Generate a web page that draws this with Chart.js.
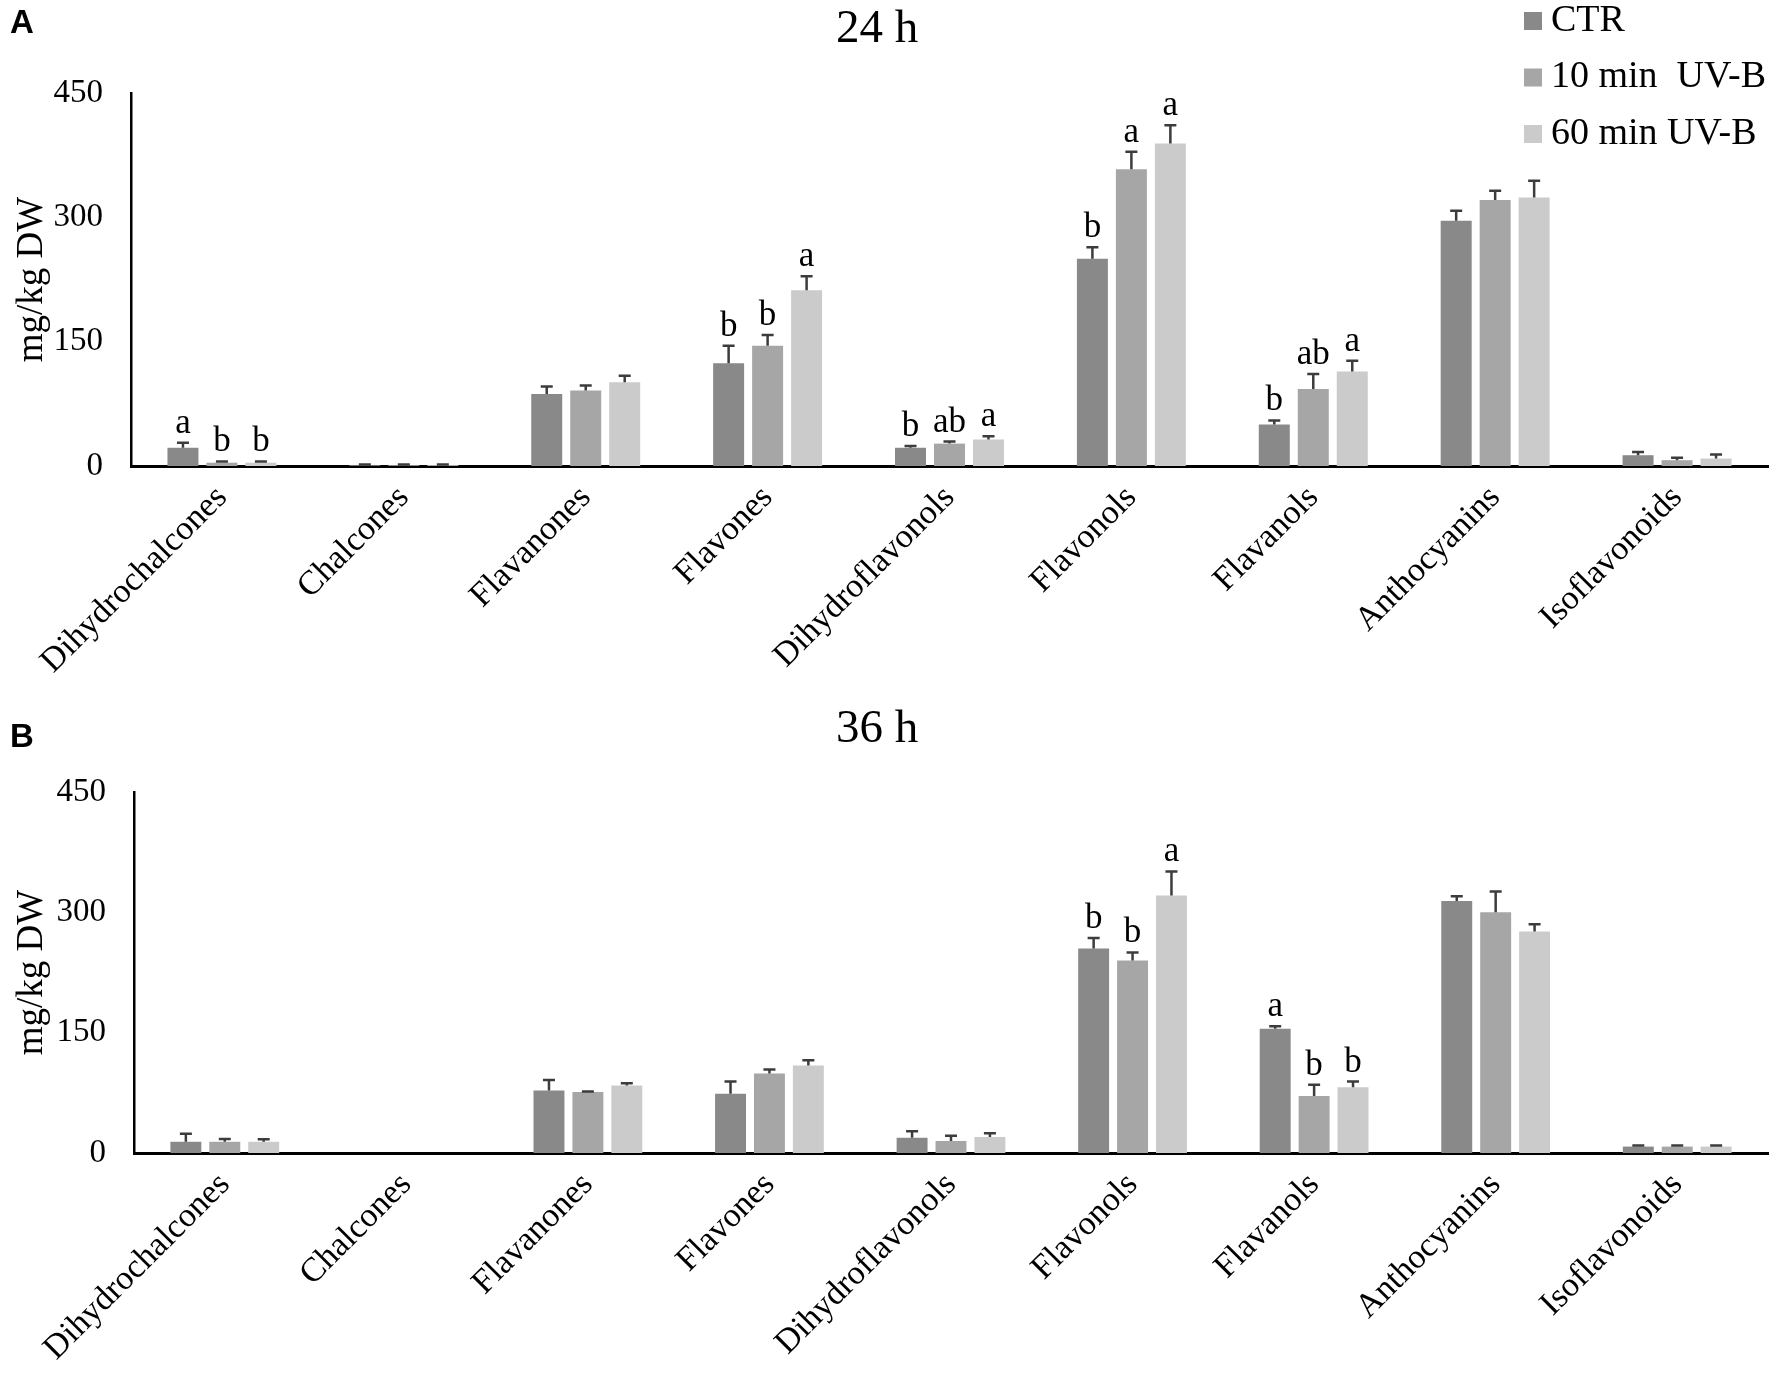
<!DOCTYPE html>
<html>
<head>
<meta charset="utf-8">
<script src="https://cdn.jsdelivr.net/npm/chart.js@4.4.1/dist/chart.umd.min.js"></script>
<style>
  html, body { margin: 0; padding: 0; background: #fff; }
  canvas { position: absolute; left: 0; }
  #panelA { top: 0; }
  #panelB { top: 700px; }
</style>
</head>
<body>
<canvas id="panelA" width="1788" height="700"></canvas>
<canvas id="panelB" width="1788" height="679"></canvas>
<script>
var categories = ['Dihydrochalcones', 'Chalcones', 'Flavanones', 'Flavones', 'Dihydroflavonols',
  'Flavonols', 'Flavanols', 'Anthocyanins', 'Isoflavonoids'];
var seriesNames = ['CTR', '10 min  UV-B', '60 min UV-B'];
var seriesColors = ['#898989', '#a6a6a6', '#cbcbcb'];
var yTicks = [0, 150, 300, 450];

// 24 h
var ctr24 = [22, 1, 87, 124, 22, 250, 50, 296, 13];
var ctr24Err = [6, 0.8, 9, 21, 2, 14, 5, 12, 4];
var uv10min24 = [4, 1, 91, 145, 27, 358, 93, 321, 7];
var uv10min24Err = [1.5, 0.8, 6, 13, 2.5, 21, 18, 11, 3];
var uv60min24 = [4, 1, 101, 212, 32, 389, 114, 324, 9];
var uv60min24Err = [1.5, 0.8, 8, 17, 4, 22, 13, 20, 5];
var ctr24Letters = ['a', '', '', 'b', 'b', 'b', 'b', '', ''];
var uv10min24Letters = ['b', '', '', 'b', 'ab', 'a', 'ab', '', ''];
var uv60min24Letters = ['b', '', '', 'a', 'a', 'a', 'a', '', ''];

// 36 h
var ctr36 = [14, 0, 78, 74, 19, 255, 155, 314, 8];
var ctr36Err = [10, 0, 13, 15, 8, 13, 3, 6, 1.5];
var uv10min36 = [14, 0, 76, 99, 15, 240, 71, 300, 8];
var uv10min36Err = [3.5, 0, 0.8, 5, 6.5, 10, 14, 26, 1.5];
var uv60min36 = [14, 0, 84, 109, 20, 321, 82, 276, 8];
var uv60min36Err = [3, 0, 3, 6.5, 4.5, 30, 7, 9, 1.5];
var ctr36Letters = ['', '', '', '', '', 'b', 'a', '', ''];
var uv10min36Letters = ['', '', '', '', '', 'b', 'b', '', ''];
var uv60min36Letters = ['', '', '', '', '', 'a', 'b', '', ''];

var serif = '"Liberation Serif", "Times New Roman", serif';

// error bars, letters, panel title, panel letter, legend
var extrasPlugin = {
  id: 'extras',
  afterDatasetsDraw: function(chart) {
    var ctx = chart.ctx;
    var y = chart.scales.y;
    ctx.save();
    chart.data.datasets.forEach(function(ds, di) {
      var meta = chart.getDatasetMeta(di);
      meta.data.forEach(function(bar, i) {
        var v = ds.data[i];
        var err = ds.errors[i];
        if (!v && !err) return;
        var base = y.getPixelForValue(v);
        var top = y.getPixelForValue(v + err);
        ctx.strokeStyle = '#3c3c3c';
        ctx.lineWidth = 2.5;
        ctx.beginPath();
        ctx.moveTo(bar.x, base);
        ctx.lineTo(bar.x, top);
        ctx.moveTo(bar.x - 6, top);
        ctx.lineTo(bar.x + 6, top);
        ctx.stroke();
        if (ds.letters[i]) {
          ctx.fillStyle = '#000';
          ctx.font = '35px ' + serif;
          ctx.textAlign = 'center';
          ctx.textBaseline = 'alphabetic';
          ctx.fillText(ds.letters[i], bar.x, top - 10);
        }
      });
    });
    ctx.restore();
  },
  afterDraw: function(chart) {
    var o = chart.options.plugins.extras;
    var ctx = chart.ctx;
    ctx.save();
    ctx.fillStyle = '#000';
    ctx.textBaseline = 'middle';
    ctx.textAlign = 'center';
    ctx.font = '47px ' + serif;
    ctx.fillText(o.title, 877, 30);
    ctx.textAlign = 'left';
    ctx.font = 'bold 33px "Liberation Sans", Arial, sans-serif';
    ctx.fillText(o.panel, 10, o.panelY);
    if (o.legend) {
      ctx.font = '38px ' + serif;
      seriesNames.forEach(function(name, k) {
        var cy = 21 + k * 56.5;
        ctx.fillStyle = seriesColors[k];
        ctx.fillRect(1524, cy - 9, 18, 18);
        ctx.fillStyle = '#000';
        ctx.fillText(name, 1551, cy);
      });
    }
    ctx.restore();
  }
};

function makeDatasets(values, errors, letters) {
  return values.map(function(vals, k) {
    return {
      label: seriesNames[k],
      data: vals,
      errors: errors[k],
      letters: letters[k],
      backgroundColor: seriesColors[k],
      borderWidth: 0,
      categoryPercentage: 0.643,
      barPercentage: 0.795
    };
  });
}

function makeChart(id, datasets, opts) {
  return new Chart(document.getElementById(id), {
    type: 'bar',
    data: { labels: categories, datasets: datasets },
    plugins: [extrasPlugin],
    options: {
      responsive: false,
      animation: false,
      events: [],
      layout: { padding: { left: 0, right: 20, top: opts.top, bottom: 0 } },
      plugins: {
        legend: { display: false },
        tooltip: { enabled: false },
        extras: { title: opts.title, panel: opts.panel, panelY: opts.panelY, legend: opts.legend }
      },
      scales: {
        x: {
          grid: { display: false, drawTicks: false },
          border: { display: true, color: '#000', width: 3 },
          ticks: {
            color: '#000',
            font: { family: serif, size: 34 },
            minRotation: 45,
            maxRotation: 45,
            autoSkip: false,
            padding: 12
          },
          afterFit: function(scale) { scale.height = opts.xHeight; }
        },
        y: {
          min: 0,
          max: 450,
          grid: { display: false, drawTicks: false },
          border: { display: true, color: '#000', width: 2.5 },
          afterBuildTicks: function(scale) {
            scale.ticks = yTicks.map(function(v) { return { value: v }; });
          },
          ticks: {
            color: '#000',
            font: { family: serif, size: 33 },
            padding: 28
          },
          title: {
            display: true,
            text: 'mg/kg DW',
            color: '#000',
            font: { family: serif, size: 37 },
            padding: { top: 10, bottom: 0 }
          },
          afterFit: function(scale) { scale.width = opts.yWidth; }
        }
      }
    }
  });
}

makeChart('panelA',
  makeDatasets([ctr24, uv10min24, uv60min24],
    [ctr24Err, uv10min24Err, uv60min24Err],
    [ctr24Letters, uv10min24Letters, uv60min24Letters]),
  { top: 93, xHeight: 234, yWidth: 131, title: '24 h', panel: 'A', panelY: 24, legend: true });

makeChart('panelB',
  makeDatasets([ctr36, uv10min36, uv60min36],
    [ctr36Err, uv10min36Err, uv60min36Err],
    [ctr36Letters, uv10min36Letters, uv60min36Letters]),
  { top: 92, xHeight: 226, yWidth: 134, title: '36 h', panel: 'B', panelY: 38, legend: false });
</script>
</body>
</html>
